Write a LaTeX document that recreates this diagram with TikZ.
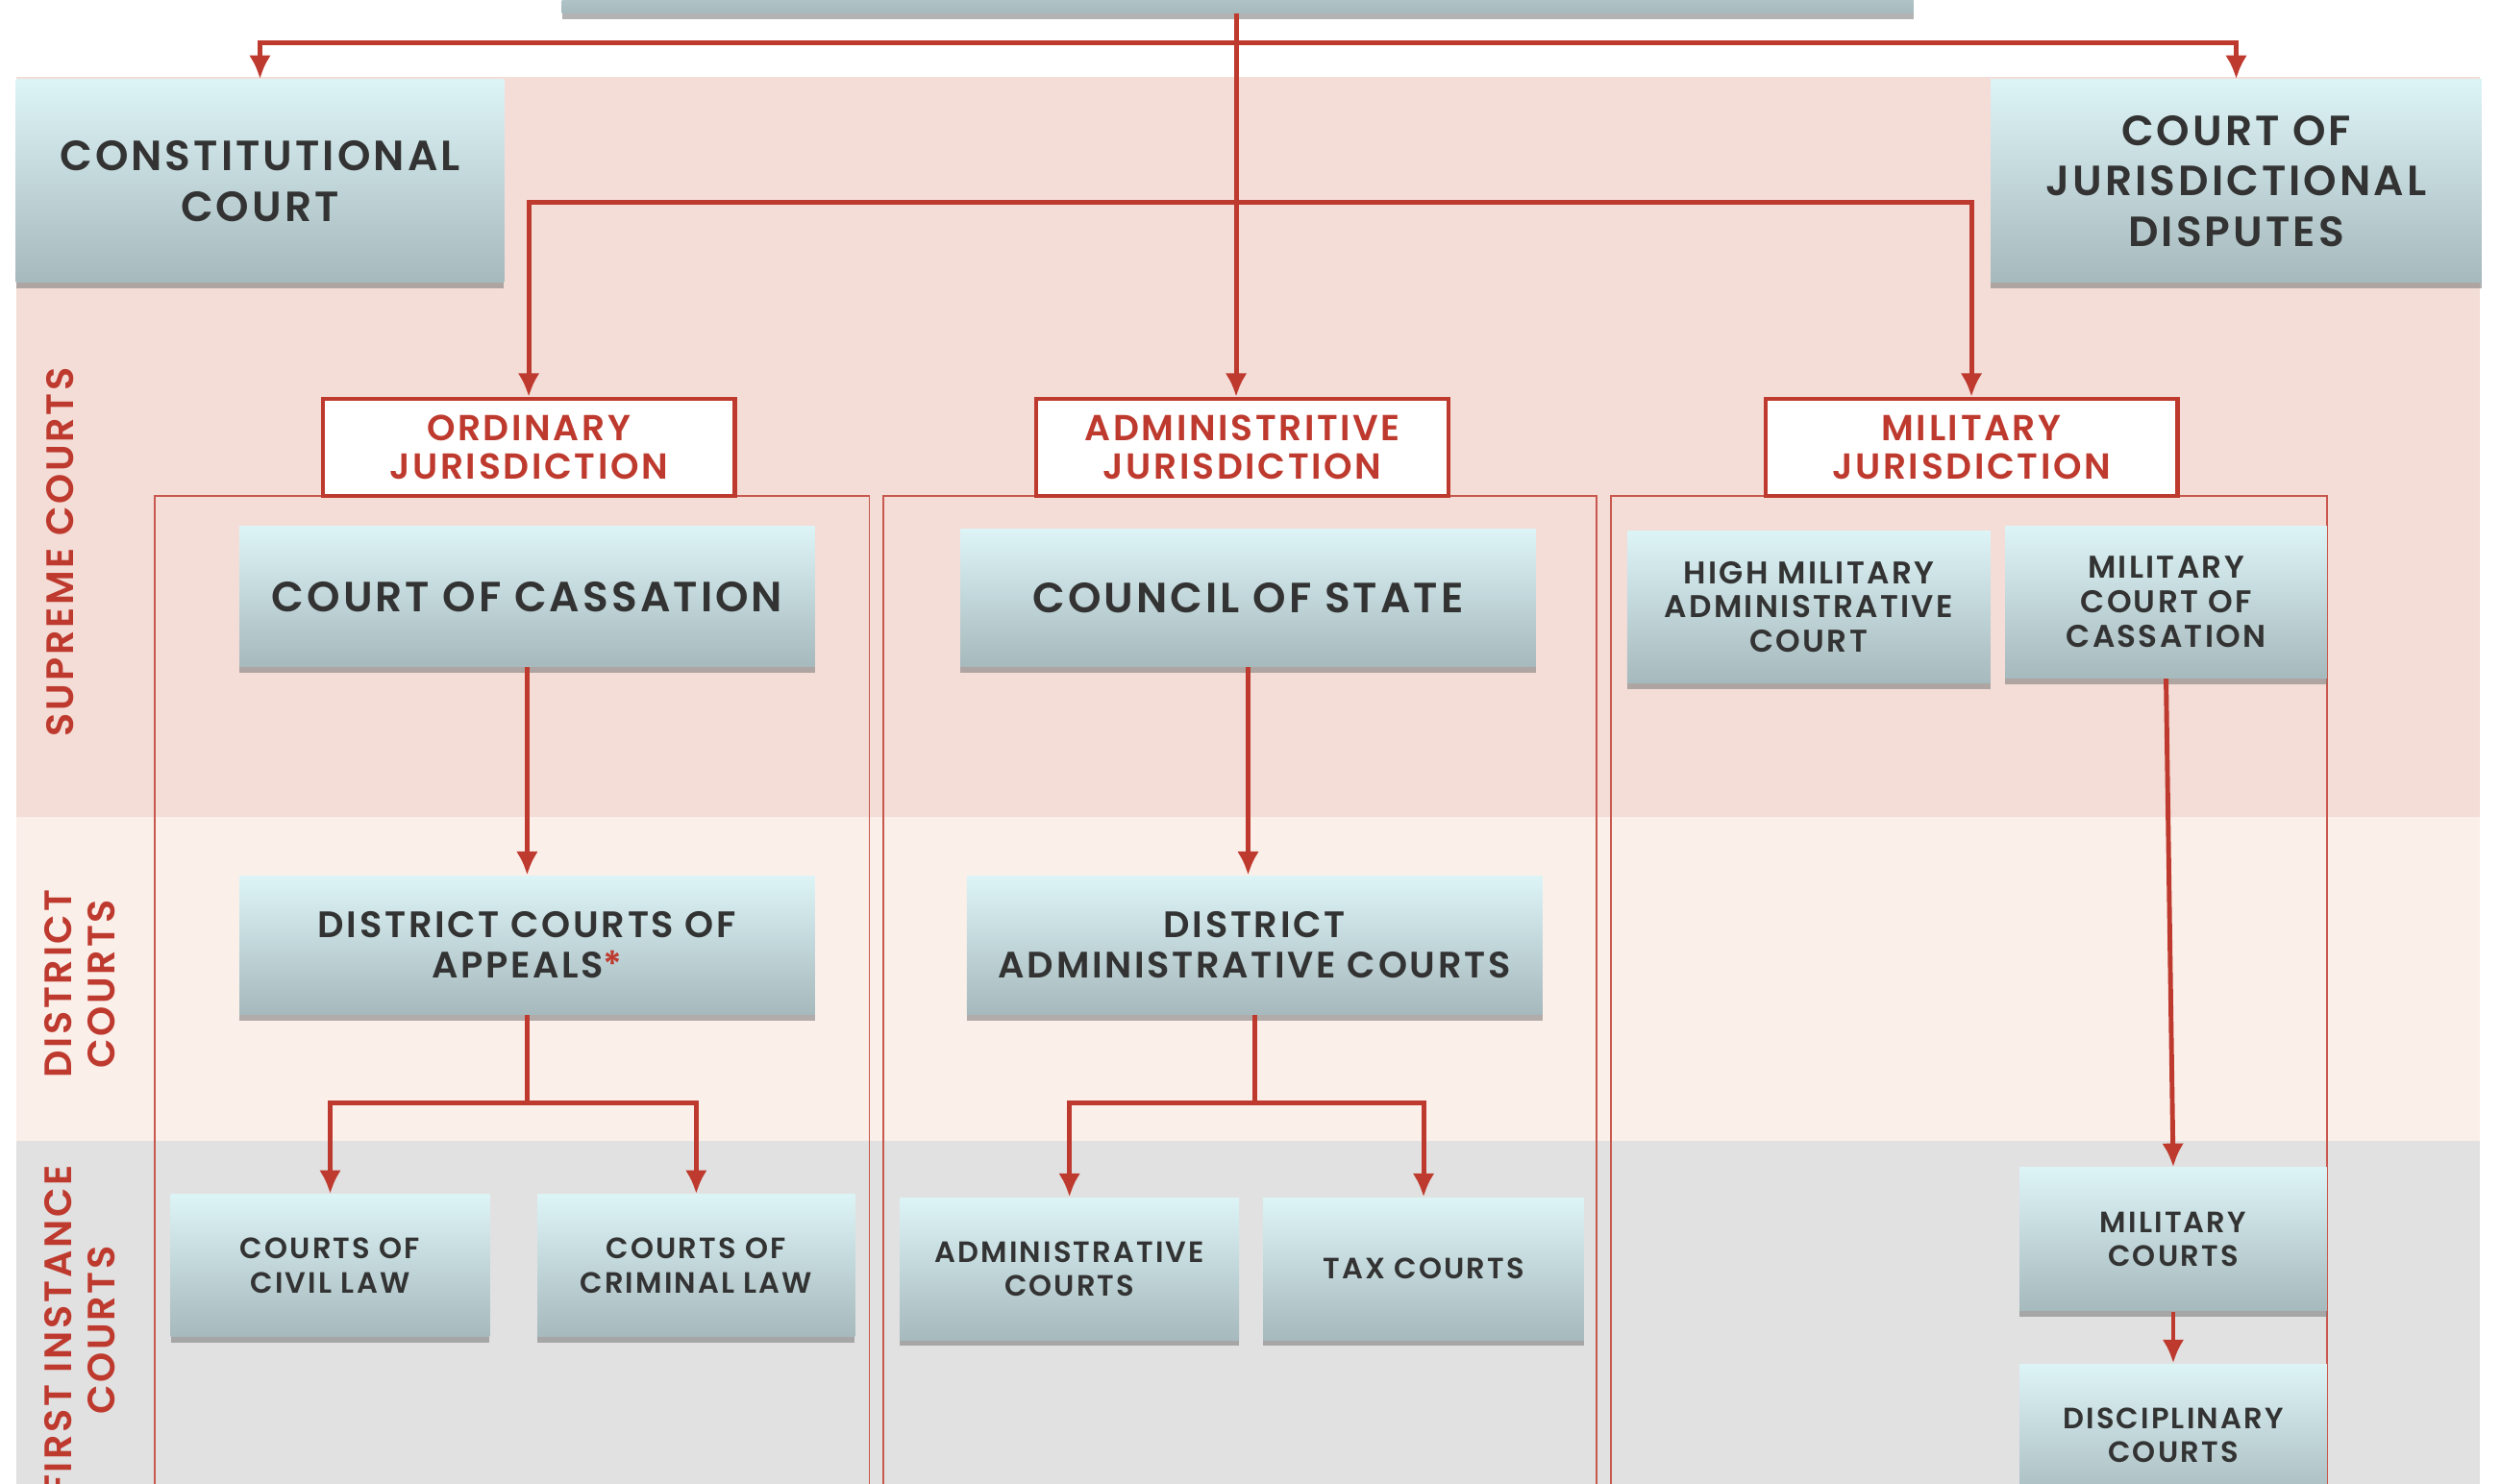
\documentclass[tikz,border=0pt]{standalone}
\usepackage{fontspec}
\setmainfont{Poppins}[LetterSpace=7, BoldFont={Poppins SemiBold}]
\usetikzlibrary{positioning, shadows, arrows.meta, calc}
\usepackage{xcolor}
\definecolor{jred}{HTML}{BE3A2E}
\definecolor{pinkband}{HTML}{F4DDD7}
\definecolor{lightband}{HTML}{FBEFEA}
\definecolor{greyband}{HTML}{E1E1E1}
\definecolor{boxtop}{HTML}{DDF4F7}
\definecolor{boxbot}{HTML}{A6B9BD}
\definecolor{boxtext}{HTML}{333333}

\begin{document}
\begin{tikzpicture}[
    x=0.016594cm, y=-0.016594cm,
    court/.style={top color=boxtop, bottom color=boxbot, draw=none, text=boxtext, align=center, inner sep=2pt, drop shadow={shadow xshift=0pt, shadow yshift=-1.8pt, opacity=0.6}},
    big/.style={court, font=\bfseries\fontsize{12.5}{15}\selectfont},
    mid/.style={court, font=\bfseries\fontsize{10.9}{12}\selectfont},
    small/.style={court, font=\bfseries\fontsize{8.7}{10}\selectfont},
    smallb/.style={court, font=\bfseries\fontsize{9.3}{10.2}\selectfont},
    juris/.style={draw=jred, line width=1.2pt, fill=white, text=jred, align=center, minimum width=4.29cm, minimum height=1.01cm, font=\bfseries\fontsize{10.7}{11.5}\selectfont},
    frame/.style={draw=jred!85, line width=0.5pt},
    side/.style={text=jred, rotate=90, align=center, font=\bfseries\fontsize{11.3}{13}\selectfont},
    line/.style={draw=jred, line width=1.4pt, -{Latex[length=7pt,width=6.5pt]}}
]
\useasboundingbox (0,0) rectangle (1568,930);
\clip (0,0) rectangle (1568,930);

% Bands
\fill[pinkband] (10,48) rectangle (1555,512);
\fill[lightband] (10,512) rectangle (1555,715);
\fill[greyband] (10,715) rectangle (1555,940);

\node[side] (supreme) at (38,346) {SUPREME COURTS};
\node[side] (district) at (50,617) {DISTRICT\\COURTS};
\node[side] (first) at (50,834) {FIRST INSTANCE\\COURTS};

% Column frames
\draw[frame] (97,940) -- (97,311) -- (545,311) -- (545,940);
\draw[frame] (554,940) -- (554,311) -- (1001,311) -- (1001,940);
\draw[frame] (1010,940) -- (1010,311) -- (1459,311) -- (1459,940);

% Nodes
\node[court, minimum width=14.07cm, minimum height=0.8cm] (top) at (776,-16) {};
\node[big, minimum width=5.08cm, minimum height=2.11cm] (constit) at (163,113.5) {CONSTITUTIONAL\\COURT};
\node[big, minimum width=5.11cm, minimum height=2.11cm] (disputes) at (1402,113.5) {COURT OF\\JURISDICTIONAL\\DISPUTES};

\node[juris] (ordinary) at (331.5,280.5) {ORDINARY\\JURISDICTION};
\node[juris] (admin) at (779,280.5) {ADMINISTRITIVE\\JURISDICTION};
\node[juris] (military) at (1236,280.5) {MILITARY\\JURISDICTION};

\node[big, minimum width=5.99cm, minimum height=1.46cm] (cassation) at (330.5,374) {COURT OF CASSATION};
\node[big, minimum width=5.99cm, minimum height=1.43cm] (council) at (782.5,375) {COUNCIL OF STATE};
\node[smallb, minimum width=3.78cm, minimum height=1.58cm] (highmil) at (1134,380.5) {HIGH MILITARY\\ADMINISTRATIVE\\COURT};
\node[smallb, minimum width=3.35cm, minimum height=1.58cm] (milcass) at (1358,377.5) {MILITARY\\COURT OF\\CASSATION};

\node[mid, minimum width=5.99cm, minimum height=1.44cm] (appeals) at (330.5,592.5) {DISTRICT COURTS OF\\APPEALS\textcolor{jred}{*}};
\node[mid, minimum width=5.99cm, minimum height=1.44cm] (distadmin) at (786.5,592.5) {DISTRICT\\ADMINISTRATIVE COURTS};

\node[small, minimum width=3.32cm, minimum height=1.48cm] (civil) at (207,793.5) {COURTS OF\\CIVIL LAW};
\node[small, minimum width=3.30cm, minimum height=1.48cm] (criminal) at (436.5,793.5) {COURTS OF\\CRIMINAL LAW};
\node[small, minimum width=3.53cm, minimum height=1.48cm] (admcourts) at (670.5,795.5) {ADMINISTRATIVE\\COURTS};
\node[small, minimum width=3.34cm, minimum height=1.48cm] (tax) at (892.5,795.5) {TAX COURTS};
\node[small, minimum width=3.20cm, minimum height=1.49cm] (milcourts) at (1362.5,777) {MILITARY\\COURTS};
\node[small, minimum width=3.20cm, minimum height=1.49cm] (discipl) at (1362.5,900) {DISCIPLINARY\\COURTS};

\coordinate (hub1) at (775,27);
\coordinate (hub2) at (775,127);

% Edges
\draw[line] (top.south -| hub1) -- (hub1 |- admin.north);
\draw[line] (hub1) -| (constit.north);
\draw[line] (hub1) -| (disputes.north);
\draw[line] (hub2) -| (ordinary.north);
\draw[line] (hub2) -| (military.north);
\draw[line] (cassation.south) -- (appeals.north);
\draw[line] (council.south) -- (council.south |- distadmin.north);
\draw[line] (appeals.south) -- ++(0,55) -| (civil.north);
\draw[line] (appeals.south) -- ++(0,55) -| (criminal.north);
\draw[line] (distadmin.south) -- ++(0,55) -| (admcourts.north);
\draw[line] (distadmin.south) -- ++(0,55) -| (tax.north);
\draw[line] (milcass.south) -- (milcourts.north);
\draw[line] (milcourts.south) -- (discipl.north);

\end{tikzpicture}
\end{document}
